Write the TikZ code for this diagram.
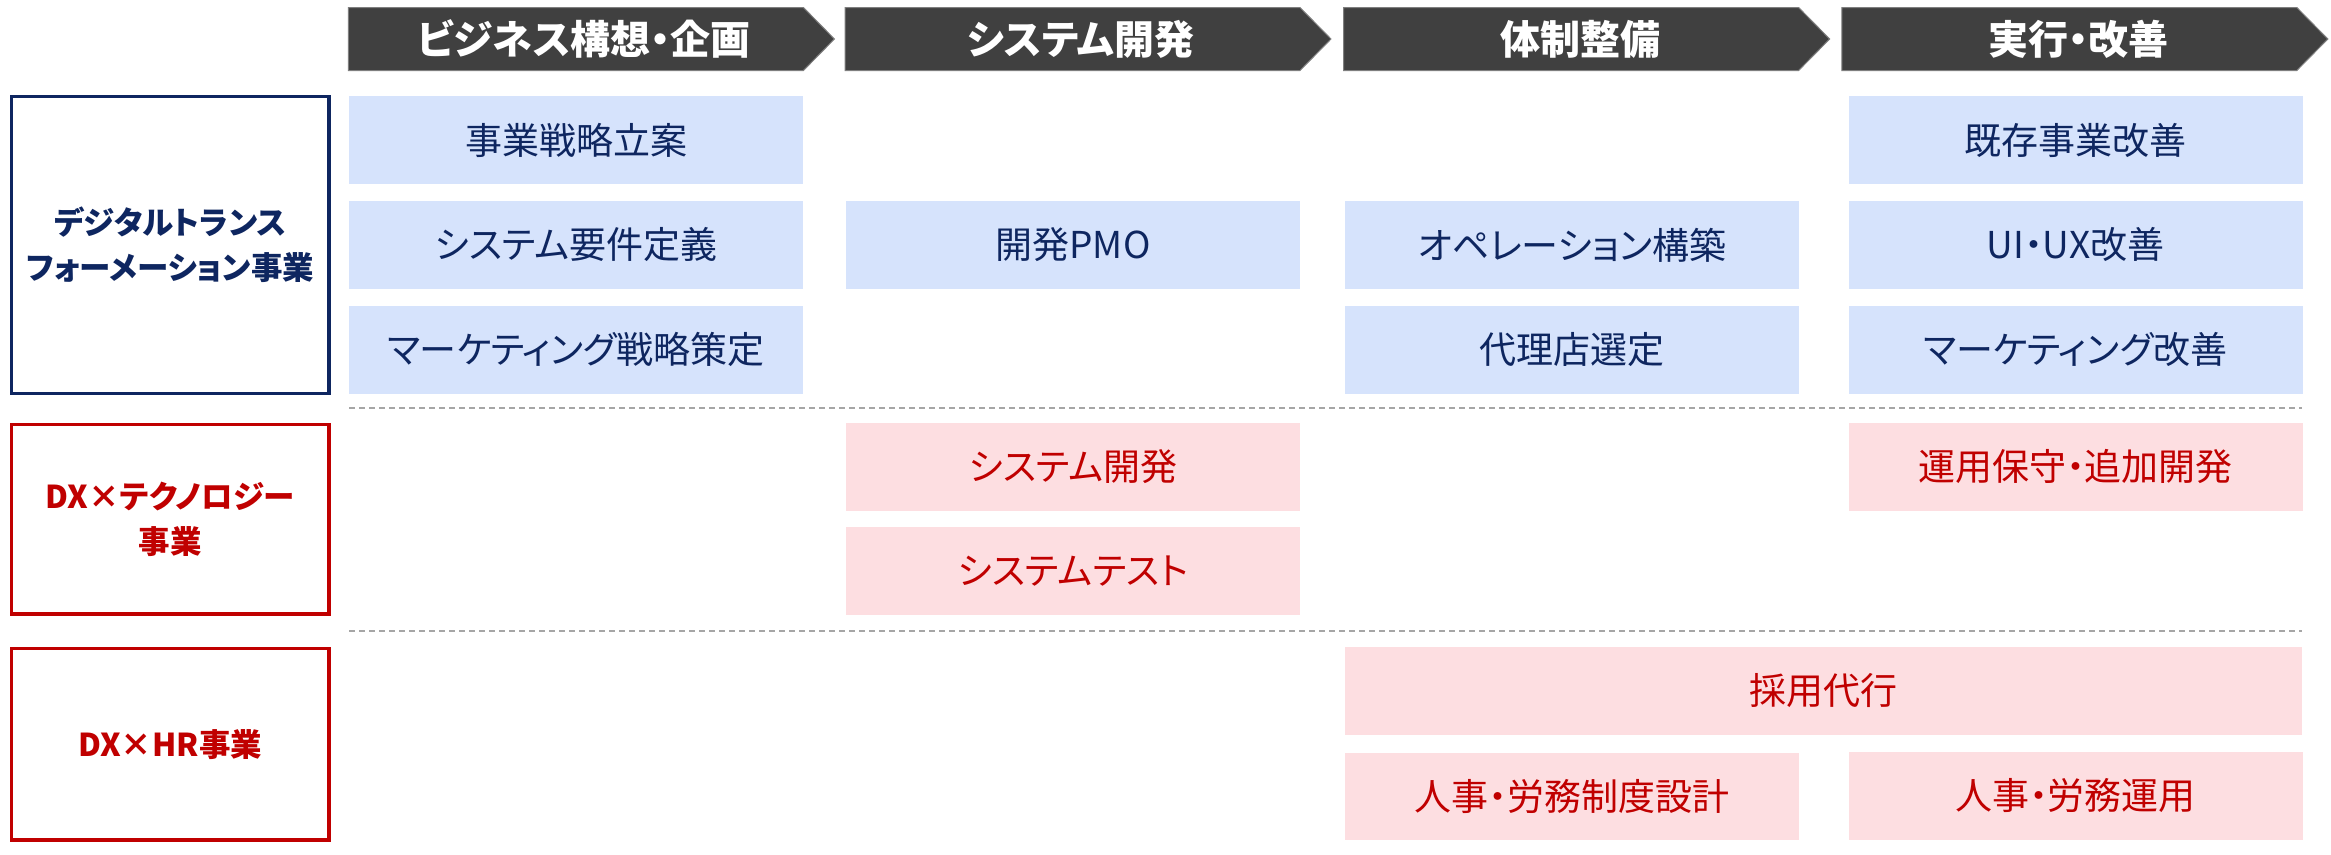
\documentclass[tikz,border=0pt]{standalone}
\usepackage{fontspec}
\setmainfont{Noto Sans CJK JP}[RawFeature=+palt]
\definecolor{hdrgray}{HTML}{404040}
\definecolor{hdredge}{HTML}{7F7F7F}
\definecolor{navy}{HTML}{0E2660}
\definecolor{lblue}{HTML}{D6E3FC}
\definecolor{lpink}{HTML}{FDDEE1}
\definecolor{dred}{HTML}{C00000}
\definecolor{dashgray}{HTML}{A6A6A6}
\tikzset{
  cell/.style={rectangle, inner sep=0pt, minimum width=454pt, minimum height=87.5pt,
    font=\fontsize{37}{40}\selectfont},
  bluecell/.style={cell, fill=lblue, text=navy},
  pinkcell/.style={cell, fill=lpink, text=dred},
  lbl/.style={rectangle, inner sep=0pt, line width=3.5pt, fill=white, minimum width=317.5pt,
    align=center, font=\bfseries\fontsize{31.5}{45}\selectfont},
  lblnavy/.style={lbl, draw=navy, text=navy},
  lblred/.style={lbl, draw=dred, text=dred},
  hdrshape/.style={fill=hdrgray, draw=hdredge, line width=1pt},
  hdrtext/.style={inner sep=0pt, text=white, font=\bfseries\fontsize{40}{46}\selectfont},
  sepline/.style={draw=dashgray, line width=2pt, dash pattern=on 6pt off 4pt}
}
\begin{document}
\begin{tikzpicture}[x=1pt,y=-1pt]
\useasboundingbox (0,0) rectangle (2331,854);
% header chevrons
\foreach \L/\n in {348.4/1,845/2,1343.6/3,1841.8/4}{
  \path[hdrshape] (\L,7.5) -- ({\L+455},7.5) -- ({\L+486},39) -- ({\L+455},70.5) -- (\L,70.5) -- cycle;
}
\node[hdrtext] (h1) at (584,39) {ビジネス構想・企画};
\node[hdrtext] (h2) at (1081,39) {システム開発};
\node[hdrtext] (h3) at (1580,39) {体制整備};
\node[hdrtext] (h4) at (2078,39) {実行・改善};
% row labels
\node[lblnavy, minimum height=296.6pt] (dt) at (170.2,245) {デジタルトランス\\フォーメーション事業};
\node[lblred, minimum height=189.5pt] (tech) at (170.2,519.2) {DX×テクノロジー\\事業};
\node[lblred, minimum height=191.5pt] (hr) at (170.2,744.2) {DX×HR事業};
% DT cells
\node[bluecell] (a1) at (576,140) {事業戦略立案};
\node[bluecell] (a2) at (576,244.9) {システム要件定義};
\node[bluecell] (a3) at (576,349.9) {マーケティング戦略策定};
\node[bluecell] (b2) at (1073,244.9) {開発PMO};
\node[bluecell] (c2) at (1572,244.9) {オペレーション構築};
\node[bluecell] (c3) at (1572,349.9) {代理店選定};
\node[bluecell] (d1) at (2075.5,140) {既存事業改善};
\node[bluecell] (d2) at (2075.5,244.9) {UI・UX改善};
\node[bluecell] (d3) at (2075.5,349.9) {マーケティング改善};
% separators
\coordinate (s1l) at (349,408.3); \coordinate (s1r) at (2302,408.3);
\coordinate (s2l) at (349,631); \coordinate (s2r) at (2302,631);
\draw[sepline] (s1l) -- (s1r);
\draw[sepline] (s2l) -- (s2r);
% tech cells
\node[pinkcell] (b4) at (1073,466.9) {システム開発};
\node[pinkcell] (b5) at (1073,570.9) {システムテスト};
\node[pinkcell] (d4) at (2075.5,466.9) {運用保守・追加開発};
% HR cells
\node[pinkcell, minimum width=957pt] (cd6) at (1823.5,690.9) {採用代行};
\node[pinkcell] (c7) at (1572,796.5) {人事・労務制度設計};
\node[pinkcell] (d7) at (2075.5,796) {人事・労務運用};
\end{tikzpicture}
\end{document}
